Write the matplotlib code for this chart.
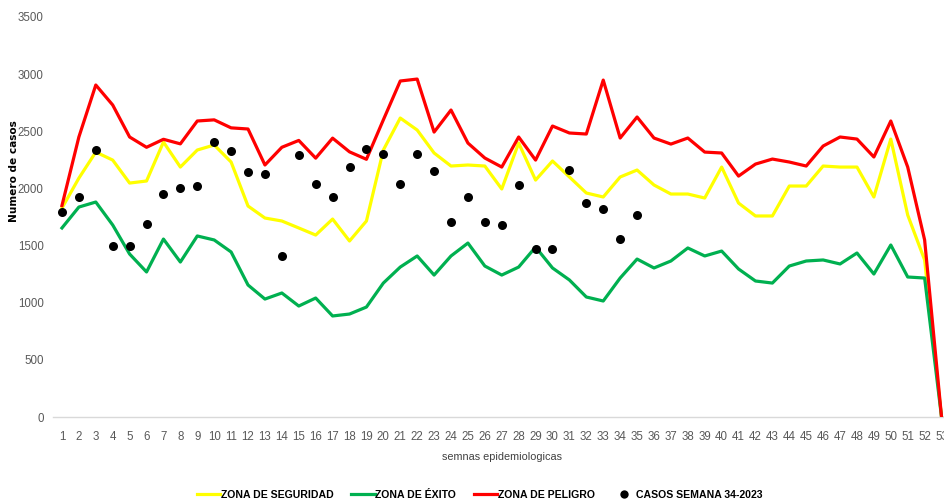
import matplotlib
matplotlib.use("Agg")
import matplotlib.pyplot as plt
from matplotlib.lines import Line2D

plt.rcParams['font.family'] = ['Liberation Sans', 'DejaVu Sans']

weeks = list(range(1, 54))

zona_peligro = [1850, 2450, 2905, 2730, 2450, 2360, 2430, 2390, 2590, 2600,
                2530, 2520, 2205, 2360, 2420, 2265, 2440, 2320, 2255, 2600,
                2940, 2957, 2493, 2686, 2397, 2266, 2187, 2450, 2248, 2546,
                2485, 2476, 2948, 2441, 2625, 2441, 2388, 2441, 2318, 2310,
                2108, 2213, 2257, 2231, 2196, 2371, 2450, 2432, 2275, 2590,
                2187, 1549, 0]

zona_seguridad = [1828, 2090, 2318, 2248, 2047, 2065, 2406, 2187, 2336, 2380,
                  2231, 1846, 1741, 1715, 1654, 1592, 1732, 1540, 1715, 2336,
                  2616, 2511, 2310, 2196, 2205, 2196, 1995, 2397, 2073, 2240,
                  2100, 1960, 1925, 2100, 2161, 2030, 1951, 1951, 1916, 2187,
                  1872, 1759, 1759, 2021, 2021, 2196, 2187, 2187, 1925, 2432,
                  1767, 1374, 0]

zona_exito = [1654, 1837, 1881, 1680, 1426, 1269, 1557, 1356, 1584, 1549,
              1444, 1155, 1032, 1085, 971, 1041, 884, 901, 962, 1172,
              1312, 1409, 1242, 1409, 1522, 1321, 1242, 1312, 1487, 1304,
              1199, 1050, 1015, 1216, 1382, 1304, 1365, 1479, 1409, 1452,
              1295, 1190, 1172, 1321, 1365, 1374, 1339, 1435, 1251, 1505,
              1225, 1216, 0]

casos_weeks = list(range(1, 36))
casos_2023 = [1794, 1925, 2336, 1496, 1496, 1689, 1951, 2004, 2021, 2406,
              2327, 2143, 2126, 1409, 2292, 2039, 1925, 2187, 2345, 2301,
              2039, 2301, 2152, 1706, 1925, 1706, 1680, 2030, 1470, 1470,
              2161, 1872, 1820, 1557, 1767]

y_ticks = [0, 500, 1000, 1500, 2000, 2500, 3000, 3500]

W, H = 945, 503
fig = plt.figure(figsize=(W / 100, H / 100), dpi=100)
ax = fig.add_axes([53.5 / W, (H - 417) / H, (950 - 53.5) / W, 400 / H])

c_yel, c_grn, c_red = '#FFFF00', '#00B050', '#FF0000'
ax.plot(weeks, zona_seguridad, color=c_yel, lw=2.3, solid_joinstyle='round', zorder=3)
ax.plot(weeks, zona_exito, color=c_grn, lw=2.3, solid_joinstyle='round', zorder=3)
ax.plot(weeks, zona_peligro, color=c_red, lw=2.3, solid_joinstyle='round', zorder=4)
ax.plot(casos_weeks, casos_2023, 'o', color='black', ms=6.5, zorder=5,
        markeredgewidth=0)

ax.set_xlim(0.5, 53.5)
ax.set_ylim(0, 3500)
ax.set_yticks(y_ticks)
ax.set_xticks(weeks)
ax.tick_params(axis='both', length=0, colors='#595959', labelsize=8.3)
ax.tick_params(axis='y', pad=7)
ax.tick_params(axis='x', pad=10)
for s in ['top', 'right', 'left']:
    ax.spines[s].set_visible(False)
ax.spines['bottom'].set_color('#D9D9D9')
ax.spines['bottom'].set_linewidth(1)

fig.text(14 / W, 1 - 171 / H, 'Numero de casos', rotation=90, ha='center', va='center',
         fontsize=7.6, fontweight='bold', color='black', family=['DejaVu Sans'])
fig.text(502 / W, 1 - 457 / H, 'semnas epidemiologicas', ha='center', va='center',
         fontsize=7.8, color='#404040')

handles = [Line2D([], [], color=c_yel, lw=2.3),
           Line2D([], [], color=c_grn, lw=2.3),
           Line2D([], [], color=c_red, lw=2.3),
           Line2D([], [], marker='o', color='black', lw=0, ms=6, markeredgewidth=0)]
labels = ['ZONA DE SEGURIDAD', 'ZONA DE ÉXITO', 'ZONA DE PELIGRO', 'CASOS SEMANA 34-2023']
leg = fig.legend(handles, labels, loc='center', bbox_to_anchor=(480 / W, 1 - 495 / H),
                 ncol=4, frameon=False, handlelength=2.2, handletextpad=0.05,
                 columnspacing=1.7, prop={'weight': 'bold', 'size': 7.6})
for t in leg.get_texts():
    t.set_color('black')

fig.savefig('out.png', dpi=100)
